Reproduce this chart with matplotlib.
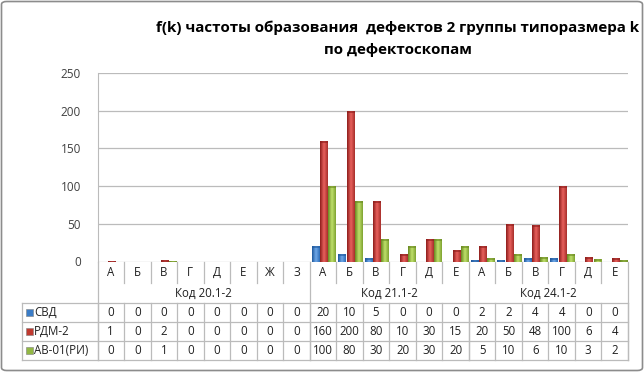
import numpy as np
import matplotlib
matplotlib.use("Agg")
import matplotlib.pyplot as plt
from matplotlib.patches import FancyBboxPatch, Rectangle
from matplotlib.colors import LinearSegmentedColormap

plt.rcParams['font.family'] = ['Open Sans', 'DejaVu Sans']

# данные
groups = ['Код 20.1-2', 'Код 21.1-2', 'Код 24.1-2']
cats = [['А', 'Б', 'В', 'Г', 'Д', 'Е', 'Ж', 'З'],
        ['А', 'Б', 'В', 'Г', 'Д', 'Е'],
        ['А', 'Б', 'В', 'Г', 'Д', 'Е']]
series_names = ['СВД', 'РДМ-2', 'АВ-01(РИ)']
svd = [0, 0, 0, 0, 0, 0, 0, 0, 20, 10, 5, 0, 0, 0, 2, 2, 4, 4, 0, 0]
rdm = [1, 0, 2, 0, 0, 0, 0, 0, 160, 200, 80, 10, 30, 15, 20, 50, 48, 100, 6, 4]
av = [0, 0, 1, 0, 0, 0, 0, 0, 100, 80, 30, 20, 30, 20, 5, 10, 6, 10, 3, 2]
yticks = [0, 50, 100, 150, 200, 250]

series = [svd, rdm, av]
# тёмный, светлый, тёмный - имитация цилиндрической заливки
shades = [['#1F5A9E', '#6FA8E8', '#2E6DB8'],
          ['#8E1E1C', '#E8605C', '#A8302C'],
          ['#6A8A22', '#BFE06A', '#7FA332']]
flat = ['#3A7CC7', '#C0392F', '#92B844']

W, H = 644, 372
fig = plt.figure(figsize=(W / 100, H / 100), dpi=100)

def fx(px):
    return px / W

def fy(py):
    return 1 - py / H

x0, x1 = 97.5, 628
ax = fig.add_axes([fx(x0), fy(261.5), fx(x1) - fx(x0), fy(73) - fy(261.5)])
n = len(svd)

for v in yticks[1:]:
    ax.axhline(v, color='#BBBBBB', lw=0.9, zorder=0)
ax.set_yticks(yticks)
ax.tick_params(axis='y', length=0, labelsize=8.5, colors='#404040', pad=12)
ax.set_xticks([])
for s in ['top', 'right', 'bottom']:
    ax.spines[s].set_visible(False)
ax.spines['left'].set_color('#BBBBBB')
ax.axhline(0, color='#BBBBBB', lw=0.9, zorder=0)

bw = 0.3
offs = [-0.28, 0.04, 0.35]
for k, vals in enumerate(series):
    cmap = LinearSegmentedColormap.from_list('c%d' % k, shades[k])
    grad = np.linspace(0, 1, 32).reshape(1, -1)
    for i, v in enumerate(vals):
        if v <= 0:
            continue
        xc = i + 0.5 + offs[k] - bw / 2
        h = max(v, 0.8)
        rect = Rectangle((xc, 0), bw, h, facecolor=flat[k], edgecolor='none', zorder=2)
        ax.add_patch(rect)
        im = ax.imshow(grad, cmap=cmap, extent=[xc, xc + bw, 0, h], aspect='auto', zorder=3)
        im.set_clip_path(rect)
        # верхняя грань
        ax.add_patch(Rectangle((xc, h - min(2.5, h)), bw, min(2.5, h),
                               facecolor=shades[k][0], edgecolor='none', alpha=0.6, zorder=4))
ax.set_xlim(0, n)
ax.set_ylim(0, 250)

# таблица данных
grid_c = '#BBBBBB'
fs = 8.3
colw = (x1 - x0) / n
xs = [x0 + i * colw for i in range(n + 1)]
row_cat = (261.5, 284)
rows = [(302.5, 322), (322, 341), (341, 360)]

def hline(y, xa, xb):
    fig.add_artist(plt.Line2D([fx(xa), fx(xb)], [fy(y), fy(y)], color=grid_c, lw=0.9))

def vline(x, ya, yb):
    fig.add_artist(plt.Line2D([fx(x), fx(x)], [fy(ya), fy(yb)], color=grid_c, lw=0.9))

# категории
flat_cats = [c for g in cats for c in g]
bounds = [0]
for g in cats:
    bounds.append(bounds[-1] + len(g))
for i, c in enumerate(flat_cats):
    fig.text(fx((xs[i] + xs[i + 1]) / 2), fy(272), c, ha='center', va='center',
             fontsize=fs, color='#202020')
for i in range(n + 1):
    if i in bounds:
        vline(xs[i], row_cat[0], rows[-1][1])
    else:
        vline(xs[i], row_cat[0], 283)
for gi, g in enumerate(groups):
    xa, xb = xs[bounds[gi]], xs[bounds[gi + 1]]
    fig.text(fx((xa + xb) / 2), fy(293), g, ha='center', va='center',
             fontsize=fs, color='#202020')
for i in range(n + 1):
    vline(xs[i], rows[0][0], rows[-1][1])
vline(22.5, rows[0][0], rows[-1][1])
hline(rows[0][0], 22.5, x1)
for r in rows:
    hline(r[1], 22.5, x1)

for k, (name, vals) in enumerate(zip(series_names, series)):
    ya, yb = rows[k]
    yc = (ya + yb) / 2
    fig.patches.append(Rectangle((fx(25.5), fy(yc + 3.5)), fx(7), fy(yc - 3.5) - fy(yc + 3.5),
                                 facecolor=flat[k], edgecolor='#808080', lw=0.4,
                                 transform=fig.transFigure, figure=fig))
    fig.text(fx(34), fy(yc), name, ha='left', va='center', fontsize=fs, color='#202020')
    for i, v in enumerate(vals):
        fig.text(fx((xs[i] + xs[i + 1]) / 2), fy(yc), str(v), ha='center', va='center',
                 fontsize=fs, color='#202020')

# заголовок
fig.text(fx(398), fy(28), 'f(k) частоты образования  дефектов 2 группы типоразмера k',
         ha='center', va='center', fontsize=10.9, fontweight='bold', color='#000000')
fig.text(fx(398), fy(50), 'по дефектоскопам',
         ha='center', va='center', fontsize=10.9, fontweight='bold', color='#000000')

# рамка
fig.patches.append(FancyBboxPatch((fx(1.5), fy(370.5)), fx(641), fy(1.5) - fy(370.5),
                                  boxstyle='round,pad=0,rounding_size=0.008',
                                  facecolor='none', edgecolor='#8C8C8C', lw=1.2,
                                  transform=fig.transFigure, figure=fig))

fig.savefig('out.png', dpi=100)
